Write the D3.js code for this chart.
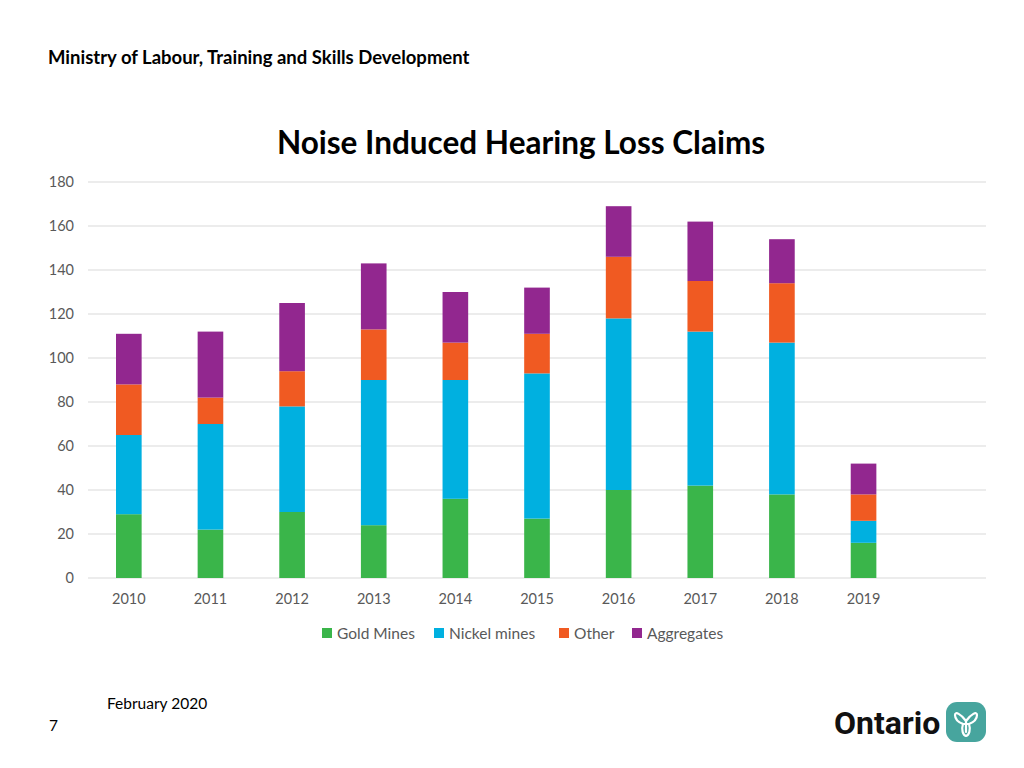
<!DOCTYPE html>
<html><head><meta charset="utf-8">
<script src="https://cdn.jsdelivr.net/npm/d3@7"></script>
<style>body{margin:0;background:#fff;} svg{display:block;font-family:Lato,"Open Sans",sans-serif;}</style>
</head><body>
<svg id="c" width="1024" height="768"></svg>
<script>
const years = ["2010","2011","2012","2013","2014","2015","2016","2017","2018","2019",""];
const seriesNames = ["Gold Mines","Nickel mines","Other","Aggregates"];
const gold = [29,22,30,24,36,27,40,42,38,16];
const nickel = [36,48,48,66,54,66,78,70,69,10];
const other = [23,12,16,23,17,18,28,23,27,12];
const aggregates = [23,30,31,30,23,21,23,27,20,14];
const yTicks = [0,20,40,60,80,100,120,140,160,180];
const colors = ["#3ab54a","#00b0e0","#f05a22","#92278f"];

const svg = d3.select("#c");
const rows = years.slice(0,10).map((y,i)=>({year:y,"Gold Mines":gold[i],"Nickel mines":nickel[i],"Other":other[i],"Aggregates":aggregates[i]}));
const stack = d3.stack().keys(seriesNames)(rows);

const x = d3.scaleBand().domain(years).range([88,986]).paddingInner(0.686).paddingOuter(0.343);
const y = d3.scaleLinear().domain([0,180]).range([578,182]);

// gridlines
svg.append("g").selectAll("line").data(yTicks).join("line")
  .attr("x1",88).attr("x2",986).attr("y1",d=>y(d)).attr("y2",d=>y(d))
  .attr("stroke","#d9d9d9").attr("stroke-width",1);

// y axis labels
const ya = svg.append("g").attr("transform","translate(74,0)")
  .call(d3.axisLeft(y).tickValues(yTicks).tickSize(0).tickPadding(0));
ya.select(".domain").remove();
ya.selectAll("text").attr("font-family","Lato,sans-serif").attr("font-size",14.5).attr("fill","#595959");

// x axis labels
const xa = svg.append("g").attr("transform","translate(0,590)")
  .call(d3.axisBottom(x).tickSize(0).tickPadding(4));
xa.select(".domain").remove();
xa.selectAll("text").attr("font-family","Lato,sans-serif").attr("font-size",14.5).attr("fill","#595959");

// bars
svg.append("g").selectAll("g").data(stack).join("g").attr("fill",(d,i)=>colors[i])
  .selectAll("rect").data(d=>d).join("rect")
  .attr("x",d=>x(d.data.year)).attr("width",x.bandwidth())
  .attr("y",d=>y(d[1])).attr("height",d=>y(d[0])-y(d[1]));

// title
svg.append("text").attr("x",521).attr("y",154).attr("text-anchor","middle")
  .attr("font-size",31.5).attr("font-weight","bold").attr("fill","#000").text("Noise Induced Hearing Loss Claims");

// legend
const legX = [322,434,559,632];
const lg = svg.append("g").selectAll("g").data(seriesNames).join("g")
  .attr("transform",(d,i)=>`translate(${legX[i]},633)`);
lg.append("rect").attr("x",0).attr("y",-5).attr("width",10).attr("height",10).attr("fill",(d,i)=>colors[i]);
lg.append("text").attr("x",15).attr("y",5.5).attr("font-size",15.5).attr("fill","#595959").text(d=>d);

// header & footer
svg.append("text").attr("x",48).attr("y",64).attr("font-size",18.5).attr("font-weight","bold").attr("fill","#000")
  .text("Ministry of Labour, Training and Skills Development");
svg.append("text").attr("x",107).attr("y",709).attr("font-size",15.5).attr("fill","#000").text("February 2020");
svg.append("text").attr("x",49).attr("y",731).attr("font-size",15.5).attr("fill","#000").text("7");

// Ontario logo
svg.append("text").attr("x",834).attr("y",734).attr("font-size",32).attr("font-weight","bold").attr("fill","#111")
  .attr("font-family","Roboto,Lato,sans-serif").text("Ontario");
const lgo = svg.append("g").attr("transform","translate(946,702)");
lgo.append("rect").attr("width",40).attr("height",40).attr("rx",11).attr("fill","#47a59e");
const tr = lgo.append("g").attr("fill","none").attr("stroke","#fff").attr("stroke-width",2.2).attr("stroke-linejoin","round").attr("stroke-linecap","round");
tr.append("path").attr("d","M20,19 C15,12 9,9 9,13 C9,17 12,20 17,22 M20,19 C25,12 31,9 31,13 C31,17 28,20 23,22 M17,22 C15,28 17,33 20,34 C23,33 25,28 23,22");
tr.append("path").attr("d","M20,19 L20,30 M17,22 L23,22");
</script>
</body></html>
